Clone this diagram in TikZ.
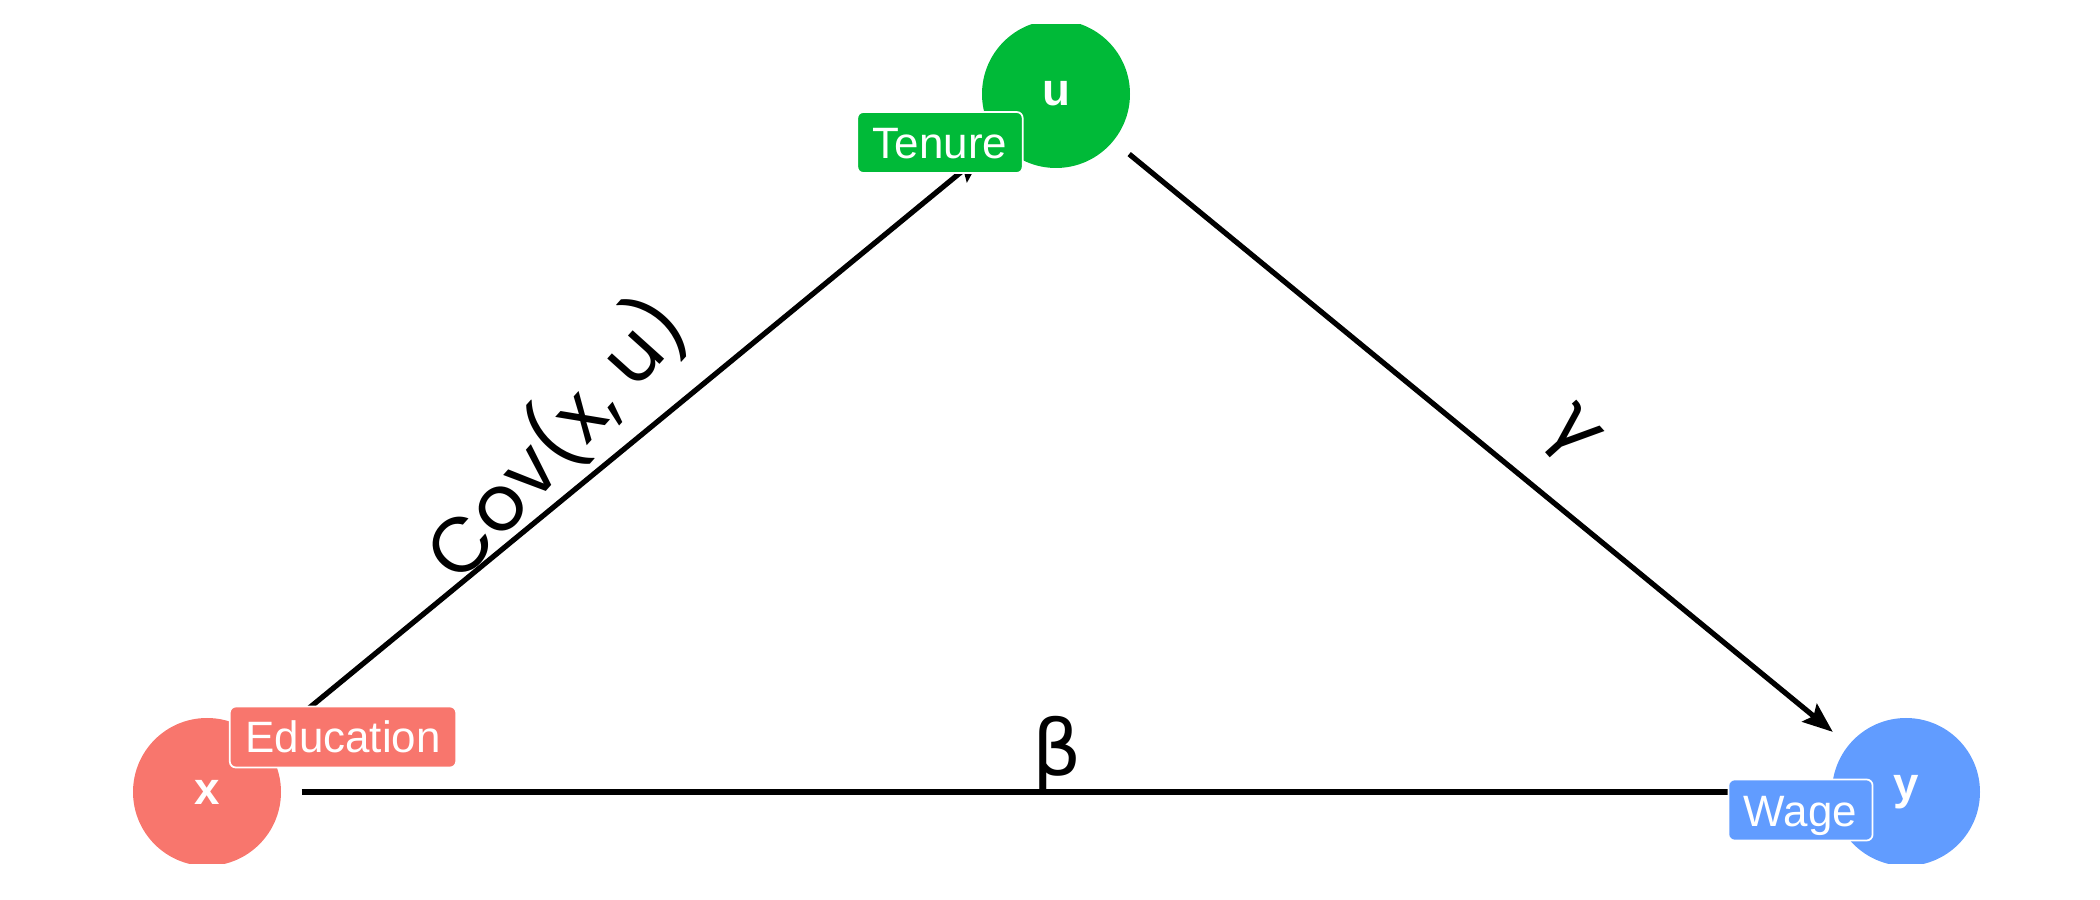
\documentclass[tikz,border=0pt]{standalone}
\usepackage{fontspec}
\setmainfont{Liberation Sans}
\newfontfamily\geofont{Poppins}
\newfontfamily\greekfont{DejaVu Sans}
\usepackage{tikz}
\usetikzlibrary{arrows.meta, positioning}

\definecolor{edured}{HTML}{F8766D}
\definecolor{tengreen}{HTML}{00BA38}
\definecolor{wageblue}{HTML}{619CFF}

\begin{document}
\begin{tikzpicture}[
  var/.style={circle, fill=#1, minimum size=14.8mm, inner sep=0pt, text=white, font=\fontsize{13}{15}\selectfont\bfseries},
  tag/.style={draw=white, line width=0.5pt, fill=#1, rounded corners=0.6mm, text=white, font=\fontsize{12.5}{15}\selectfont, inner xsep=1.55mm, inner ysep=1.45mm, text height=3.2mm, text depth=0mm},
  arr/.style={-{Stealth[length=3mm, width=2.3mm, inset=0.5mm]}, line width=1.5pt, shorten >=2mm, shorten <=2mm},
  elbl/.style={font=\fontsize{22}{26}\selectfont#1},
  elbl/.default=\greekfont,
]
  \useasboundingbox (0,0) rectangle (21,9);

  % variables, cut off by the panel
  \begin{scope}
    \clip (0,0.37) rectangle (21,8.75);
    \node[var=edured]   (x) at (2.07,1.08)  {x};
    \node[var=tengreen] (u) at (10.56,8.06) {u};
    \node[var=wageblue] (y) at (19.06,1.08) {y};
  \end{scope}

  \draw[arr] (x) -- (u);
  \draw[arr] (u) -- (y);
  \draw[arr] (x) -- (y);

  \node[elbl=\geofont, rotate=48] (cov) at (5.55,4.62) {Cov(x, u)};
  \node[elbl, rotate=-48] (gamma) at (15.70,4.64) {γ};
  \node[elbl, anchor=base] (beta) at (10.57,1.24) {β};

  \node[tag=edured]   (edu) at (3.43,1.63)  {Education};
  \node[tag=tengreen] (ten) at (9.40,7.575) {Tenure};
  \node[tag=wageblue] (wag) at (18.005,0.90) {Wage};
\end{tikzpicture}
\end{document}
